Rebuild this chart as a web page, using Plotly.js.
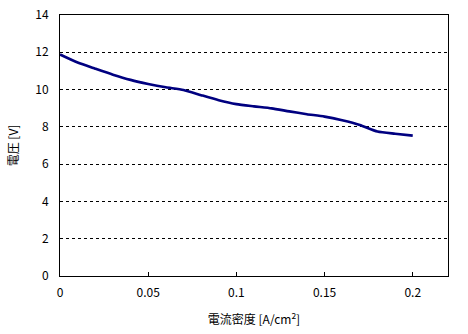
<!DOCTYPE html>
<html>
<head>
<meta charset="utf-8">
<script src="https://cdn.plot.ly/plotly-3.0.1.min.js"></script>
<style>html,body{margin:0;padding:0;background:#fff;}</style>
</head>
<body>
<div id="chart" style="width:468px;height:334px;"></div>
<script>
const currentDensity = [0, 0.01, 0.02, 0.03, 0.04, 0.05, 0.06, 0.07, 0.08, 0.09, 0.10, 0.11, 0.12, 0.13, 0.14, 0.15, 0.16, 0.17, 0.18, 0.19, 0.20];
const voltage = [11.88, 11.45, 11.12, 10.8, 10.52, 10.3, 10.12, 9.98, 9.7, 9.43, 9.22, 9.1, 8.99, 8.83, 8.68, 8.55, 8.35, 8.1, 7.75, 7.63, 7.53];
const xTicks = [0, 0.05, 0.1, 0.15, 0.2];
const xTickLabels = ['0', '0.05', '0.1', '0.15', '0.2'];
const yTicks = [0, 2, 4, 6, 8, 10, 12, 14];

const font = "'Noto Sans CJK JP', 'DejaVu Sans', sans-serif";

Plotly.newPlot('chart', [{
  x: currentDensity,
  y: voltage,
  mode: 'lines',
  line: {color: '#000080', width: 2.6, shape: 'spline', smoothing: 0.6},
  hoverinfo: 'none'
}], {
  width: 468, height: 334,
  margin: {l: 60, r: 20, t: 15, b: 58},
  paper_bgcolor: '#fff', plot_bgcolor: '#fff',
  showlegend: false,
  font: {family: font, size: 12, color: '#000'},
  xaxis: {
    range: [0, 0.22],
    tickvals: xTicks, ticktext: xTickLabels,
    ticks: 'inside', ticklen: 4, tickcolor: '#000', tickwidth: 1,
    showline: true, linecolor: '#000', linewidth: 1, mirror: true,
    showgrid: false, zeroline: false,
    tickfont: {family: font, size: 12},
    ticklabelstandoff: 6,
    title: {text: '電流密度 [A/cm<sup>2</sup>]', font: {family: font, size: 12}, standoff: 16}
  },
  yaxis: {
    range: [0, 14],
    tickvals: yTicks,
    ticks: '',
    showline: true, linecolor: '#000', linewidth: 1, mirror: true,
    showgrid: true, gridcolor: '#000', gridwidth: 1, griddash: '3px,3px',
    zeroline: false,
    tickfont: {family: font, size: 12},
    ticklabelstandoff: 8,
    title: {text: '電圧 [V]', font: {family: font, size: 12}, standoff: 14}
  }
}, {staticPlot: true});
</script>
</body>
</html>
